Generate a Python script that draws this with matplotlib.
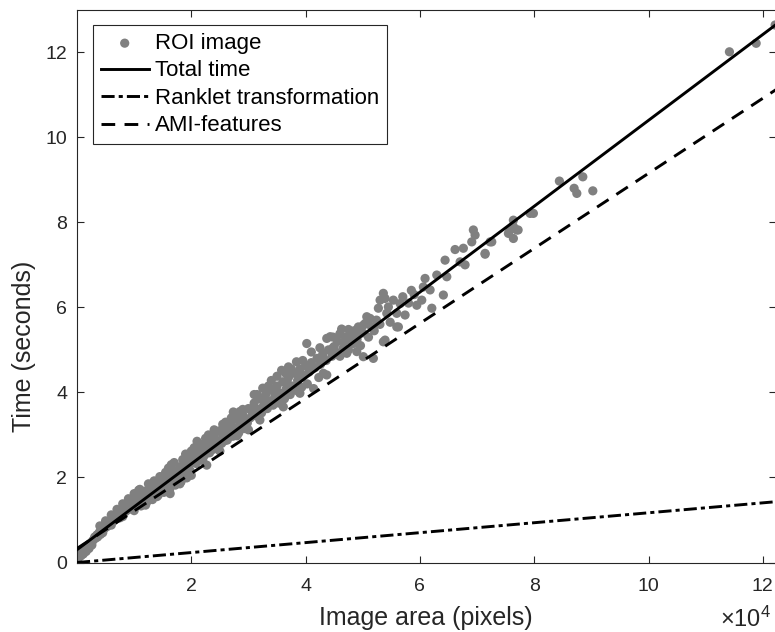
import matplotlib
matplotlib.use("Agg")
import matplotlib.pyplot as plt
import numpy as np

plt.rcParams['font.family'] = ['Liberation Sans', 'DejaVu Sans']
plt.rcParams['mathtext.fontset'] = 'custom'
plt.rcParams['mathtext.rm'] = 'Liberation Sans'
plt.rcParams['mathtext.it'] = 'Liberation Sans:italic'

# Measured processing time per ROI image: (area in pixels, time in seconds)
roi_small = [
    (200, 0.10), (400, 0.13), (500, 0.18), (700, 0.16), (800, 0.21), (1000, 0.24),
    (1100, 0.20), (1300, 0.27), (1500, 0.31), (1600, 0.26), (1800, 0.35), (2000, 0.38),
    (2100, 0.33), (2300, 0.44), (2500, 0.47), (2600, 0.41), (2800, 0.52), (3000, 0.55),
    (3100, 0.60), (3300, 0.58), (3500, 0.65), (3600, 0.60), (3800, 0.68), (4000, 0.73),
    (4100, 0.66), (4300, 0.78), (4500, 0.76), (4600, 0.83), (4800, 0.80), (5000, 0.88),
    (5200, 0.84), (5400, 0.93), (5500, 0.87), (5700, 0.97), (5900, 0.92), (6000, 1.01),
    (6200, 0.96), (6400, 1.06), (6500, 0.99), (6700, 1.10), (6900, 1.03), (7000, 1.13),
    (7200, 1.08), (7400, 1.17), (7500, 1.05), (7700, 1.20), (7900, 1.13), (8000, 1.23),
    (8200, 1.17), (8400, 1.28), (8500, 1.20), (8700, 1.31), (8900, 1.24), (9000, 1.35),
    (9200, 1.27), (9400, 1.38), (9500, 1.30), (9700, 1.41), (9900, 1.34), (10000, 1.45),
    (4000, 0.86), (5000, 0.98), (6000, 1.12), (7000, 1.25), (8000, 1.38), (9000, 1.50),
    (10000, 1.62), (4500, 0.70), (6000, 0.88), (8000, 1.08), (10000, 1.22),
]
roi_medium = [
    (10500, 1.52), (10800, 1.40), (11000, 1.60), (11200, 1.33), (11500, 1.55), (11800, 1.47),
    (12000, 1.68), (12200, 1.42), (12500, 1.60), (12800, 1.55), (13000, 1.77), (13200, 1.48),
    (13500, 1.70), (13800, 1.63), (14000, 1.85), (14200, 1.58), (14500, 1.80), (14800, 1.70),
    (15000, 1.95), (15200, 1.65), (15500, 1.88), (15800, 1.78), (16000, 2.05), (16200, 1.72),
    (16500, 1.97), (16800, 1.88), (17000, 2.15), (17200, 1.82), (17500, 2.08), (17800, 1.97),
    (18000, 2.25), (18200, 1.90), (18500, 2.17), (18800, 2.06), (19000, 2.33), (19200, 1.99),
    (19500, 2.28), (19800, 2.16), (20000, 2.45), (12000, 1.35), (14000, 1.55), (16300, 1.62),
    (18000, 1.85), (20000, 2.05), (11000, 1.72), (13500, 1.92), (16000, 2.22), (18500, 2.42),
    (20000, 2.62), (10800, 1.70), (12500, 1.85), (14500, 2.02), (15500, 2.12), (16500, 2.30),
    (17000, 2.35), (19000, 2.55),
    (20500, 2.50), (20800, 2.33), (21000, 2.68), (21300, 2.40), (21500, 2.58), (21800, 2.47),
    (22000, 2.78), (22300, 2.52), (22500, 2.66), (22700, 2.29), (23000, 2.88), (23200, 2.58),
    (23500, 2.76), (23800, 2.66), (24000, 2.95), (24300, 2.70), (24500, 2.85), (24800, 2.76),
    (25000, 3.10), (25300, 2.80), (25500, 2.96), (25800, 2.86), (26000, 3.18), (26300, 2.88),
    (26500, 3.07), (26800, 2.97), (27000, 3.25), (27300, 2.97), (27500, 3.15), (27800, 3.08),
    (28000, 3.38), (28300, 3.05), (28500, 3.26), (28800, 3.18), (29000, 3.48), (29300, 3.15),
    (29500, 3.36), (29800, 3.28), (30000, 3.62), (22000, 2.40), (25000, 2.62), (28000, 2.98),
    (30000, 3.12), (24500, 3.08), (27350, 3.54), (21000, 2.85), (23000, 3.00), (26000, 3.30),
    (29000, 3.60), (20500, 2.70), (22500, 2.92), (24000, 3.12), (25500, 3.25), (27000, 3.40),
    (28500, 3.55),
]
roi_large = [
    (30300, 3.40), (30600, 3.55), (31000, 3.75), (31300, 3.45), (31600, 3.60), (32000, 3.85),
    (32300, 3.52), (32600, 3.68), (33000, 3.95), (33300, 3.62), (33600, 3.80), (34000, 4.05),
    (34300, 3.70), (34600, 3.90), (35000, 4.15), (35300, 3.75), (35600, 3.98), (35800, 4.52),
    (36000, 4.25), (36300, 3.85), (36600, 4.08), (37000, 4.35), (37300, 3.95), (37600, 4.15),
    (38000, 4.45), (38300, 4.05), (38600, 4.28), (38400, 4.72), (39000, 4.55), (39300, 4.12),
    (39600, 4.40), (40000, 4.62), (40200, 5.15), (40300, 4.20), (40600, 4.48), (41000, 4.70),
    (41400, 4.09), (41600, 4.58), (42000, 4.80), (42300, 4.35), (42600, 4.66), (43000, 4.90),
    (43100, 4.45), (43600, 4.75), (43700, 5.27), (44000, 5.00), (44300, 5.31), (44600, 4.85),
    (45000, 5.08), (32000, 3.35), (36100, 3.66), (39000, 3.98), (43700, 4.41), (31500, 3.95),
    (33500, 4.15), (37000, 4.60),
    (31000, 3.95), (32500, 4.10), (34000, 4.28), (35000, 4.38), (36500, 4.45), (37500, 4.55),
    (39500, 4.75), (41000, 4.95), (42500, 5.05), (44800, 5.30), (46000, 5.38), (47500, 5.48),
    (30800, 3.62), (32800, 3.80), (34800, 4.00), (36800, 4.22), (38800, 4.42), (40800, 4.60),
    (42800, 4.82), (44800, 5.05), (46800, 5.20), (48800, 5.40),
    (45300, 4.95), (45600, 5.20), (46000, 4.85), (46300, 5.49), (46600, 5.05), (47000, 5.30),
    (47200, 4.92), (47500, 5.00), (47800, 5.22), (48070, 5.35), (48350, 5.15), (48500, 5.45),
    (48950, 4.96), (49000, 5.25), (49230, 5.54), (49600, 5.10), (50000, 5.40), (50100, 4.84),
    (50100, 5.58), (50400, 5.62), (50700, 5.78), (51000, 5.30), (51280, 5.74), (51500, 5.55),
    (51850, 4.80), (52000, 5.45), (52400, 5.70), (52730, 5.98), (53000, 5.60), (53030, 6.17),
    (53600, 6.33), (53600, 5.19), (53900, 6.21), (53900, 5.23), (54200, 5.86), (54480, 6.01),
    (54800, 5.65), (55350, 6.17), (55950, 5.86), (55950, 5.54), (56230, 5.54), (56530, 6.09),
    (57000, 6.25), (57400, 5.82), (58000, 6.10), (58500, 6.40), (59000, 6.30), (59450, 6.05),
    (60320, 6.17),
]
roi_huge = [
    (60600, 6.48), (60900, 6.68), (61780, 6.41), (62080, 5.98), (62950, 6.76), (64100, 6.29),
    (64400, 7.11), (64700, 6.72), (66150, 7.36), (67030, 7.07), (67600, 7.39), (67900, 7.00),
    (69070, 7.54), (69350, 7.82), (69650, 7.70), (71400, 7.25), (71400, 7.27), (72280, 7.54),
    (72570, 7.54), (75480, 7.74), (75780, 7.82), (76350, 7.90), (76350, 8.05), (76350, 7.62),
    (76950, 7.82), (77180, 7.82), (79280, 8.21), (79850, 8.21), (84400, 8.97), (86980, 8.80),
    (87450, 8.68), (88500, 9.07), (90250, 8.74), (114150, 12.01), (118830, 12.21),
    (122150, 12.64),
]

# Linear time models (endpoints over the plotted area range)
fit_area = [0, 122300]
total_fit = [0.30, 12.65]
ranklet_fit = [0.00, 1.43]
ami_fit = [0.33, 11.12]

x_ticks = [20000, 40000, 60000, 80000, 100000, 120000]
x_tick_labels = ['2', '4', '6', '8', '10', '12']
y_ticks = [0, 2, 4, 6, 8, 10, 12]

dark = '#262626'
gray = '#808080'

roi = np.array(roi_small + roi_medium + roi_large + roi_huge)

fig = plt.figure(figsize=(7.75, 6.32), dpi=100)
ax = fig.add_axes([77 / 775, 69.5 / 632, 699 / 775, 552.8 / 632])

ax.scatter(roi[:, 0], roi[:, 1], s=44, color=gray, edgecolors='none',
           label='ROI image', zorder=2, clip_on=True)
lw = 2.1
ax.plot(fit_area, total_fit, color='black', lw=lw, label='Total time', zorder=3)
ax.plot(fit_area, ranklet_fit, color='black', lw=lw, linestyle=(0, (4.5, 1.4, 1.4, 1.4)),
        dash_capstyle='butt', label='Ranklet transformation', zorder=3)
ax.plot(fit_area, ami_fit, color='black', lw=lw, linestyle=(0, (4.7, 3.2)),
        dash_capstyle='butt', label='AMI-features', zorder=3)

ax.set_xlim(0, 122300)
ax.set_ylim(0, 13)
ax.set_xticks(x_ticks)
ax.set_xticklabels(x_tick_labels)
ax.set_yticks(y_ticks)

for side in ax.spines.values():
    side.set_color(dark)
    side.set_linewidth(0.8)

ax.tick_params(axis='both', direction='in', length=4.7, width=0.8, color=dark,
               labelcolor=dark, labelsize=14, top=True, right=True)
ax.tick_params(axis='x', pad=11)
ax.tick_params(axis='y', pad=7)

fig.text(426 / 775, (632 - 625) / 632, 'Image area (pixels)', fontsize=18,
         color=dark, ha='center', va='baseline')
fig.text(24 / 775, 286 / 632, 'Time (seconds)', fontsize=18, color=dark,
         ha='center', va='center', rotation=90)
fig.text(771 / 775, (632 - 627) / 632, r'$\mathregular{\times10^4}$', fontsize=17,
         color=dark, ha='right', va='baseline')

leg = ax.legend(loc='upper left', bbox_to_anchor=((92.7 - 77) / 699, (562.5 - 25) / 552.8),
                borderaxespad=0, fontsize=16, frameon=True, fancybox=False,
                framealpha=1, edgecolor=dark, handlelength=2.16, handletextpad=0.27,
                borderpad=0.36, labelspacing=0.29, scatterpoints=1)
leg.get_frame().set_linewidth(0.8)
for t in leg.get_texts():
    t.set_color('black')

fig.savefig('out.png', dpi=100)
